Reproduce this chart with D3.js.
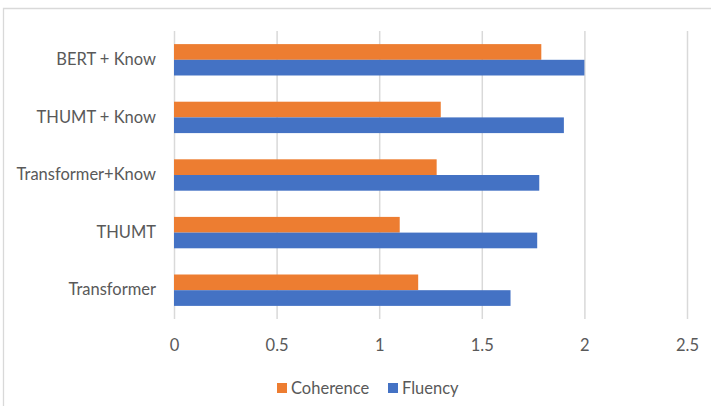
<!DOCTYPE html>
<html>
<head>
<meta charset="utf-8">
<script src="https://cdn.jsdelivr.net/npm/d3@7"></script>
<style>
  body { margin: 0; background: #fff; }
  text { font-family: Lato, "Open Sans", sans-serif; fill: #595959; }
</style>
</head>
<body>
<div id="chart"></div>
<script>
const categories = ["BERT + Know", "THUMT + Know", "Transformer+Know", "THUMT", "Transformer"];
const coherence = [1.79, 1.30, 1.28, 1.10, 1.19];
const fluency = [2.00, 1.90, 1.78, 1.77, 1.64];
const xTicks = [0, 0.5, 1, 1.5, 2, 2.5];
const seriesNames = ["Coherence", "Fluency"];
const colors = ["#ED7D31", "#4472C4"];

const W = 711, H = 406;
const margin = { top: 31, left: 174, right: 24, bottom: 87 };
const width = W - margin.left - margin.right,
  height = H - margin.top - margin.bottom;
const fontSize = "16.5px";

const data = categories.map((c, i) => ({
  cat: c,
  vals: [coherence[i], fluency[i]]
}));

const svg = d3.select("#chart").append("svg")
  .attr("width", W).attr("height", H);

// chart border (only top and left visible)
svg.append("path")
  .attr("d", `M3.5,${H} V8.5 H${W}`)
  .attr("fill", "none")
  .attr("stroke", "#d9d9d9")
  .attr("stroke-width", 1.3);

const g = svg.append("g").attr("transform", `translate(${margin.left},${margin.top})`);

/* X */
const xScale = d3.scaleLinear().domain([0, 2.5]).range([0, 513]);
const xAxis = d3.axisBottom(xScale)
  .tickValues(xTicks)
  .tickFormat(d3.format("~g"))
  .tickSize(-height)
  .tickSizeOuter(0)
  .tickPadding(20);

/* Y */
const yScale = d3.scaleBand().domain(categories).range([0, height]).paddingInner(0.455).paddingOuter(0.2275);
const ySub = d3.scaleBand().domain([0, 1]).range([0, yScale.bandwidth()]);

const xAxisDraw = g.append("g")
  .attr("transform", `translate(0,${height})`)
  .call(xAxis);
xAxisDraw.select(".domain").remove();
xAxisDraw.selectAll(".tick line").attr("stroke", "#d9d9d9").attr("stroke-width", 1.5);
xAxisDraw.selectAll(".tick text").style("font-size", fontSize).attr("fill", "#595959");

const groups = g.selectAll(".grp")
  .data(data)
  .enter().append("g")
  .attr("class", "grp")
  .attr("transform", (d) => `translate(0,${yScale(d.cat)})`);

groups.selectAll("rect")
  .data((d) => d.vals.map((v, i) => ({ v, i })))
  .enter().append("rect")
  .attr("x", 0)
  .attr("y", (d) => ySub(d.i))
  .attr("height", ySub.bandwidth())
  .attr("width", (d) => xScale(d.v))
  .attr("fill", (d) => colors[d.i]);

const yAxis = d3.axisLeft(yScale).tickSize(0).tickPadding(18);
const yAxisDraw = g.append("g").call(yAxis);
yAxisDraw.select(".domain").remove();
yAxisDraw.selectAll(".tick text").style("font-size", fontSize).attr("fill", "#595959");

/* Legend */
const legend = svg.append("g").attr("transform", "translate(0,388)");
const legX = [277, 388];
seriesNames.forEach((name, i) => {
  legend.append("rect")
    .attr("x", legX[i]).attr("y", -5)
    .attr("width", 10).attr("height", 10)
    .attr("fill", colors[i]);
  legend.append("text")
    .attr("x", legX[i] + 14).attr("y", 0)
    .attr("dy", "0.35em")
    .style("font-size", fontSize)
    .text(name);
});
</script>
</body>
</html>
